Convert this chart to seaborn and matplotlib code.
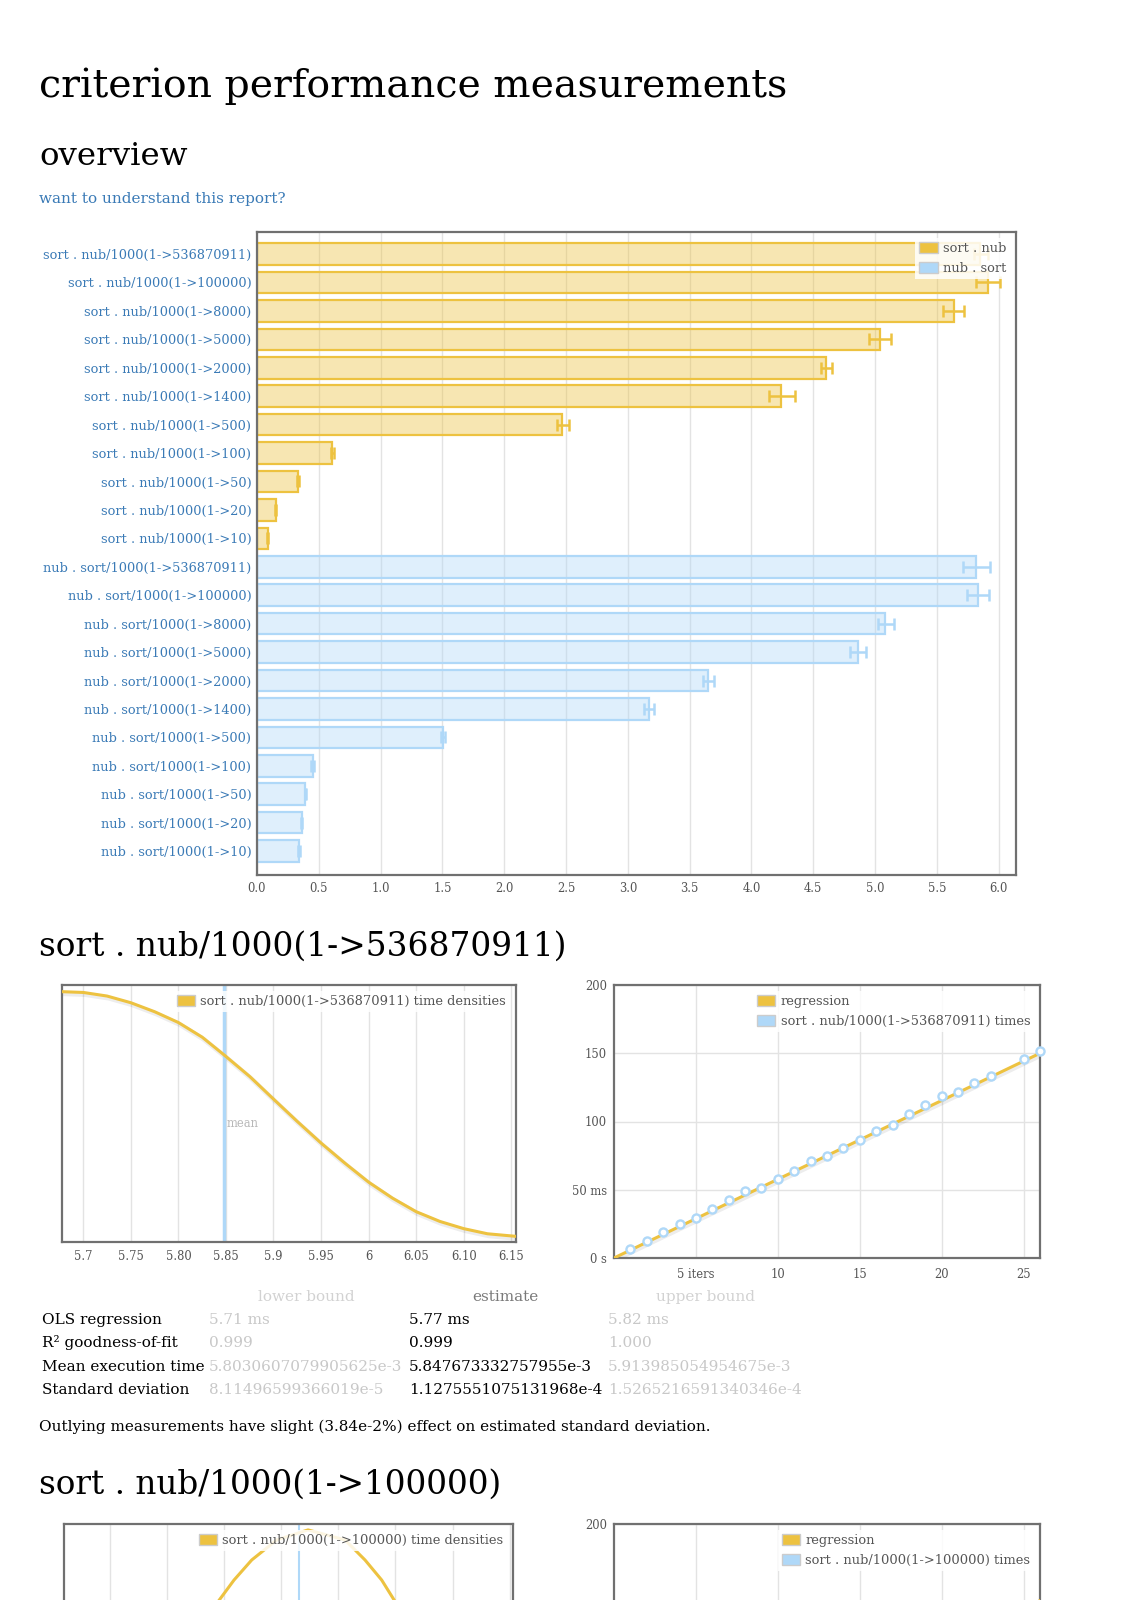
import numpy as np
import pandas as pd
import matplotlib
matplotlib.use("Agg")
import matplotlib.pyplot as plt
import seaborn as sns
from matplotlib.patches import Patch
from matplotlib.colors import to_rgba

# ---------------- data ----------------
sizes = ["536870911", "100000", "8000", "5000", "2000", "1400", "500", "100", "50", "20", "10"]
sortnub_labels = ["sort . nub/1000(1->%s)" % s for s in sizes]
nubsort_labels = ["nub . sort/1000(1->%s)" % s for s in sizes]

sortnub_mean = [5.85, 5.91, 5.64, 5.04, 4.60, 4.24, 2.47, 0.61, 0.33, 0.15, 0.085]
sortnub_lo = [5.80, 5.82, 5.55, 4.95, 4.56, 4.14, 2.43, 0.60, 0.32, 0.145, 0.08]
sortnub_hi = [5.91, 6.01, 5.72, 5.13, 4.65, 4.35, 2.52, 0.62, 0.34, 0.155, 0.09]

nubsort_mean = [5.82, 5.83, 5.08, 4.86, 3.65, 3.17, 1.505, 0.45, 0.39, 0.36, 0.34]
nubsort_lo = [5.71, 5.74, 5.02, 4.80, 3.61, 3.13, 1.49, 0.44, 0.385, 0.355, 0.335]
nubsort_hi = [5.93, 5.92, 5.15, 4.93, 3.70, 3.21, 1.52, 0.46, 0.395, 0.365, 0.345]

bar_ticks = [0.0, 0.5, 1.0, 1.5, 2.0, 2.5, 3.0, 3.5, 4.0, 4.5, 5.0, 5.5, 6.0]

# density of sort . nub/1000(1->536870911) (relative height)
dens1_x = [5.6776, 5.70, 5.725, 5.75, 5.775, 5.80, 5.825, 5.848, 5.875, 5.90, 5.925,
           5.95, 5.975, 6.00, 6.025, 6.05, 6.075, 6.10, 6.125, 6.155]
dens1_y = [0.974, 0.971, 0.957, 0.931, 0.896, 0.854, 0.797, 0.728, 0.644, 0.556, 0.469,
           0.385, 0.307, 0.233, 0.171, 0.118, 0.080, 0.052, 0.032, 0.022]
dens1_mean = 5.8477
dens1_ticks = [5.7, 5.75, 5.80, 5.85, 5.9, 5.95, 6.0, 6.05, 6.10, 6.15]
dens1_ticklabels = ["5.7", "5.75", "5.80", "5.85", "5.9", "5.95", "6", "6.05", "6.10", "6.15"]

# regression of sort . nub/1000(1->536870911)
iters1 = [1, 2, 3, 4, 5, 6, 7, 8, 9, 10, 11, 12, 13, 14, 15, 16, 17, 18, 19, 20, 21, 22, 23, 25, 26]
times1 = [6.6, 12.5, 19.4, 25.0, 29.4, 36.1, 42.5, 48.8, 51.3, 57.7, 63.6, 71.2, 74.4, 80.5,
          86.6, 93.0, 97.7, 105.3, 111.9, 118.5, 121.5, 128.1, 133.0, 145.5, 151.7]
reg1_x = [0, 26]
reg1_y = [0, 150.0]
reg_xticks = [5, 10, 15, 20, 25]
reg_xticklabels = ["5 iters", "10", "15", "20", "25"]
reg_yticks = [0, 50, 100, 150, 200]
reg_yticklabels = ["0 s", "50 ms", "100", "150", "200"]

# second benchmark (only top visible)
dens2_x = [5.80, 5.835, 5.8586, 5.8741, 5.896, 5.9234, 5.9558, 5.9733, 5.9879, 6.005, 6.04]
dens2_y = [0.45, 0.64, 0.782, 0.860, 0.938, 0.977, 0.938, 0.860, 0.782, 0.66, 0.45]
dens2_mean = 5.9158
dens2_ticks = [5.75, 5.80, 5.85, 5.90, 5.95, 6.00, 6.05, 6.10]
reg2_x = [0, 26]
reg2_y = [0, 150.0]

table_rows = ["OLS regression", "R\u00b2 goodness-of-fit", "Mean execution time", "Standard deviation"]
table_lo = ["5.71 ms", "0.999", "5.8030607079905625e-3", "8.11496599366019e-5"]
table_est = ["5.77 ms", "0.999", "5.847673332757955e-3", "1.1275551075131968e-4"]
table_hi = ["5.82 ms", "1.000", "5.913985054954675e-3", "1.5265216591340346e-4"]

# ---------------- style ----------------
W, H = 1131, 1600
sns.set_theme(style="white")
plt.rcParams["font.family"] = ["DejaVu Serif"]

YEL = "#edc240"
BLU = "#afd8f8"
TICK = "#545454"
FRAME = "#707070"
GRID = "#e3e3e3"
LINK = "#3a7ab6"

fig = plt.figure(figsize=(W / 100, H / 100), dpi=100)
renderer = fig.canvas.get_renderer()


def rect(l, t, r, b):
    return [l / W, 1 - b / H, (r - l) / W, (b - t) / H]


def fit_size(s, target, base=20, **kw):
    t = fig.text(0, 0, s, fontsize=base, **kw)
    w = t.get_window_extent(renderer).width
    t.remove()
    return base * target / w


def put(x, y, s, size, **kw):
    return fig.text(x / W, 1 - y / H, s, fontsize=size, **kw)


def frame(ax):
    for sp in ax.spines.values():
        sp.set_visible(True)
        sp.set_color(FRAME)
        sp.set_linewidth(1.6)


def swatch_legend(ax, colors, labels, size=9.4):
    handles = [Patch(facecolor=c, edgecolor="#cccccc", linewidth=1) for c in colors]
    leg = ax.legend(handles, labels, loc="upper right", fontsize=size, frameon=True,
                    framealpha=0.85, facecolor="white", edgecolor="none", fancybox=False,
                    borderpad=0.3, borderaxespad=0.45, handlelength=1.4, handleheight=1.0,
                    handletextpad=0.4, labelspacing=0.5)
    for t in leg.get_texts():
        t.set_color(TICK)
    leg.set_zorder(10)
    return leg


# ---------------- headings ----------------
s = fit_size("criterion performance measurements", 746)
put(39, 97, "criterion performance measurements", s, va="baseline", color="black")
s = fit_size("overview", 148)
put(39, 165, "overview", s, va="baseline", color="black")
s = fit_size("want to understand this report?", 246)
put(39, 203, "want to understand this report?", s, va="baseline", color=LINK)

# ---------------- overview bar chart ----------------
ax = fig.add_axes(rect(257, 232, 1016, 875))
df = pd.DataFrame({
    "label": sortnub_labels + nubsort_labels,
    "time": sortnub_mean + nubsort_mean,
    "group": ["sort . nub"] * len(sortnub_labels) + ["nub . sort"] * len(nubsort_labels),
})
sns.barplot(data=df, y="label", x="time", hue="group", orient="h", dodge=False,
            palette={"sort . nub": YEL, "nub . sort": BLU}, width=0.76, saturation=1,
            legend=False, ax=ax, zorder=2)
for cont, col in zip(ax.containers, [YEL, BLU]):
    for bar in cont:
        bar.set_facecolor(to_rgba(col, 0.4))
        bar.set_edgecolor(col)
        bar.set_linewidth(1.6)

means_all = sortnub_mean + nubsort_mean
lo_all = sortnub_lo + nubsort_lo
hi_all = sortnub_hi + nubsort_hi
ypos = np.arange(len(means_all))
for idx, col in [(slice(0, 11), YEL), (slice(11, 22), BLU)]:
    m = np.array(means_all[idx])
    lo = np.array(lo_all[idx])
    hi = np.array(hi_all[idx])
    ax.errorbar(m, ypos[idx], xerr=[m - lo, hi - m], fmt="none", ecolor=col,
                elinewidth=1.8, capsize=4, capthick=1.8, zorder=3)

ax.set_xlim(0, 6.14)
ax.set_ylim(21.84, -0.774)
ax.set_xticks(bar_ticks)
ax.set_xticklabels(["%.1f" % v for v in bar_ticks])
ax.set_xlabel("")
ax.set_ylabel("")
ax.grid(axis="x", color=GRID, linewidth=1)
ax.grid(axis="y", visible=False)
ax.set_axisbelow(True)
ysz = fit_size("sort . nub/1000(1->536870911)", 207)
ax.tick_params(axis="y", length=0, pad=4, labelsize=ysz, labelcolor=LINK)
ax.tick_params(axis="x", length=0, pad=5, labelsize=8.3, labelcolor=TICK)
frame(ax)
swatch_legend(ax, [YEL, BLU], ["sort . nub", "nub . sort"])

# ---------------- section 1 ----------------
s = fit_size("sort . nub/1000(1->536870911)", 528)
put(39, 956, "sort . nub/1000(1->536870911)", s, va="baseline", color="black")

ax2 = fig.add_axes(rect(62, 985, 516, 1242))
ax2.plot(np.array(dens1_x) + 0.0015, np.array(dens1_y) - 0.008, color="black", alpha=0.07, lw=3.5)
sns.lineplot(x=dens1_x, y=dens1_y, color=YEL, lw=2.2, ax=ax2, zorder=3)
ax2.axvline(dens1_mean, color=BLU, lw=2.5, zorder=2)
ax2.text(dens1_mean + 0.003, 0.463, "mean", color="#b8b8b8", fontsize=8.3, va="center")
ax2.set_xlim(5.6776, 6.155)
ax2.set_ylim(0, 1)
ax2.set_xticks(dens1_ticks)
ax2.set_xticklabels(dens1_ticklabels)
ax2.set_yticks([])
ax2.grid(axis="x", color=GRID, linewidth=1)
ax2.set_axisbelow(True)
ax2.tick_params(axis="x", length=0, pad=6, labelsize=8.3, labelcolor=TICK)
frame(ax2)
swatch_legend(ax2, [YEL], ["sort . nub/1000(1->536870911) time densities"])

ax3 = fig.add_axes(rect(614, 985, 1040, 1258))
ax3.plot(np.array(reg1_x) + 0.1, np.array(reg1_y) - 1.2, color="black", alpha=0.07, lw=3.5)
sns.lineplot(x=reg1_x, y=reg1_y, color=YEL, lw=2.2, ax=ax3, zorder=3)
sns.scatterplot(x=iters1, y=times1, ax=ax3, s=34, color="white", edgecolor=BLU,
                linewidth=1.7, zorder=4, clip_on=False)
ax3.set_xlim(0, 26)
ax3.set_ylim(0, 200)
ax3.set_xticks(reg_xticks)
ax3.set_xticklabels(reg_xticklabels)
ax3.set_yticks(reg_yticks)
ax3.set_yticklabels(reg_yticklabels)
ax3.grid(True, color=GRID, linewidth=1)
ax3.set_axisbelow(True)
ax3.tick_params(length=0, labelsize=8.3, labelcolor=TICK)
ax3.tick_params(axis="x", pad=7)
ax3.tick_params(axis="y", pad=5)
frame(ax3)
swatch_legend(ax3, [YEL, BLU], ["regression", "sort . nub/1000(1->536870911) times"])

# ---------------- table ----------------
ts = fit_size("Outlying measurements have slight (3.84e-2%) effect on estimated standard deviation.", 673)
put(306, 1297, "lower bound", ts, ha="center", va="center", color="#d2d2d2")
put(505, 1297, "estimate", ts, ha="center", va="center", color="#7a7a7a")
put(705, 1297, "upper bound", ts, ha="center", va="center", color="#d2d2d2")
row_y = [1320, 1343, 1367, 1390]
for y, a, b, c, d in zip(row_y, table_rows, table_lo, table_est, table_hi):
    put(42, y, a, ts, va="center", color="black")
    put(209, y, b, ts, va="center", color="#c8c8c8")
    put(409, y, c, ts, va="center", color="black")
    put(608, y, d, ts, va="center", color="#c8c8c8")
put(39, 1427, "Outlying measurements have slight (3.84e-2%) effect on estimated standard deviation.",
    ts, va="center", color="black")

# ---------------- section 2 (cut off) ----------------
s = fit_size("sort . nub/1000(1->100000)", 464)
put(39, 1494, "sort . nub/1000(1->100000)", s, va="baseline", color="black")

ax4 = fig.add_axes(rect(64, 1524, 513, 1781))
sns.lineplot(x=dens2_x, y=dens2_y, color=YEL, lw=2.2, ax=ax4, zorder=3)
ax4.axvline(dens2_mean, color=BLU, lw=1.5, zorder=2)
ax4.set_xlim(5.7097, 6.1029)
ax4.set_ylim(0, 1)
ax4.set_xticks(dens2_ticks)
ax4.set_xticklabels([])
ax4.set_yticks([])
ax4.grid(axis="x", color=GRID, linewidth=1)
ax4.set_axisbelow(True)
ax4.tick_params(length=0)
frame(ax4)
swatch_legend(ax4, [YEL], ["sort . nub/1000(1->100000) time densities"])

ax5 = fig.add_axes(rect(614, 1524, 1040, 1830))
sns.lineplot(x=reg2_x, y=reg2_y, color=YEL, lw=2.2, ax=ax5, zorder=3)
ax5.set_xlim(0, 26)
ax5.set_ylim(0, 200)
ax5.set_xticks(reg_xticks)
ax5.set_xticklabels([])
ax5.set_yticks([200])
ax5.set_yticklabels(["200"])
ax5.grid(True, color=GRID, linewidth=1)
ax5.set_axisbelow(True)
ax5.tick_params(length=0, labelsize=8.3, labelcolor=TICK, pad=5)
frame(ax5)
swatch_legend(ax5, [YEL, BLU], ["regression", "sort . nub/1000(1->100000) times"])

fig.savefig("out.png", dpi=100, facecolor="white")
